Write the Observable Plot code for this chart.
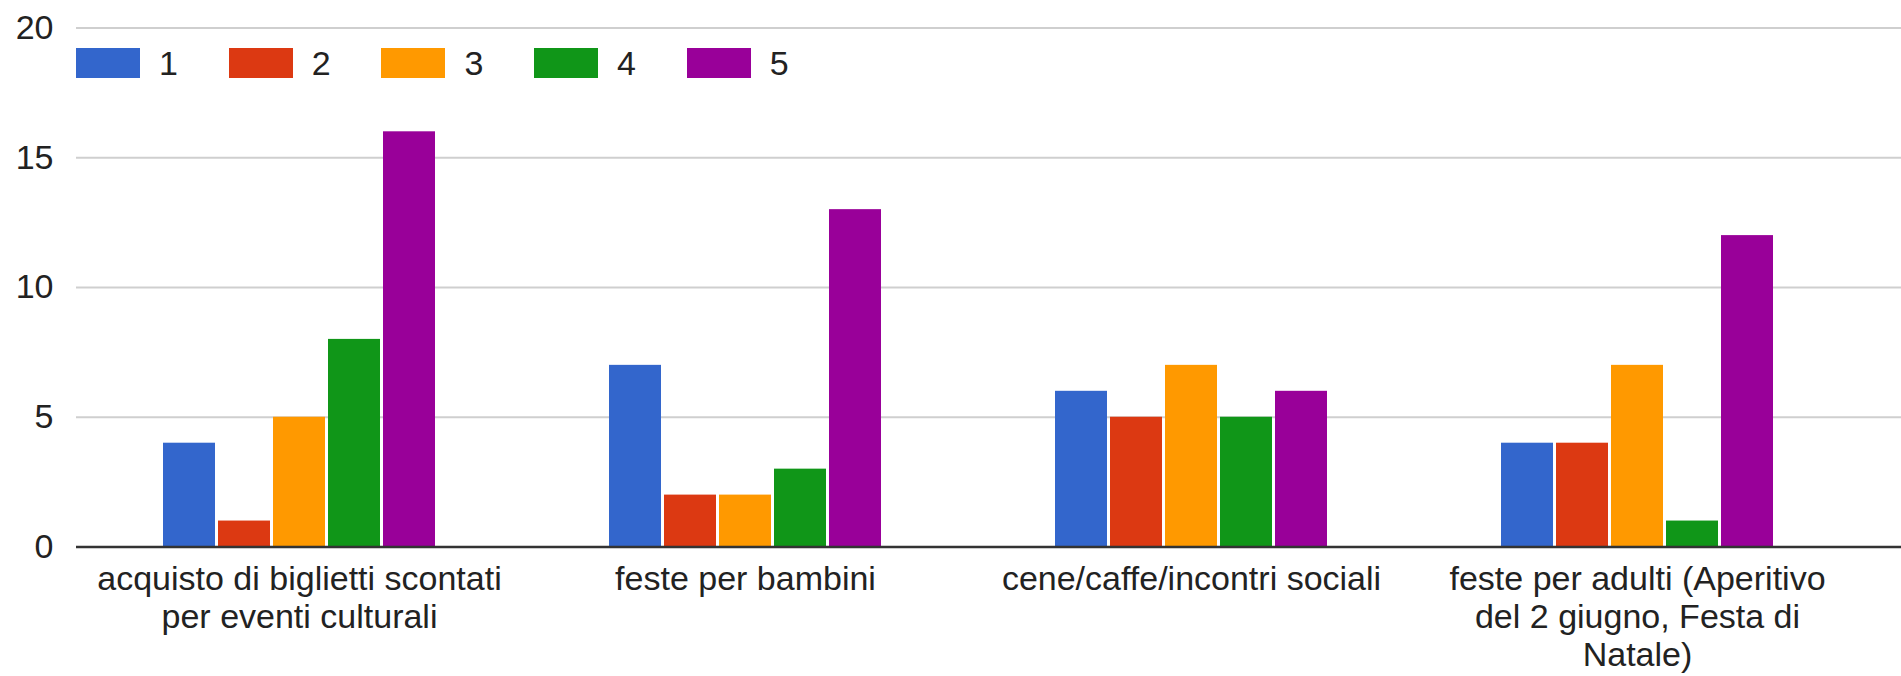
<!DOCTYPE html>
<html>
<head>
<meta charset="utf-8">
<script src="https://cdn.jsdelivr.net/npm/d3@7"></script>
<script src="https://cdn.jsdelivr.net/npm/@observablehq/plot@0.6"></script>
<style>
  html, body { margin: 0; padding: 0; background: #fff; }
  #wrap { position: relative; width: 1901px; height: 676px; font-family: "Liberation Sans", Arial, sans-serif; }
  #wrap svg { display: block; }
  #legend { position: absolute; left: 76px; top: 48px; display: flex; align-items: center; font-size: 34px; color: #222; line-height: 30px; }
  #legend .item { display: inline-flex; align-items: center; width: 152.7px; }
  #legend .sw { width: 64px; height: 30px; margin-right: 19px; }
</style>
</head>
<body>
<div id="wrap"><div id="legend"></div></div>
<script>
// ---- data ----
const categories = [
  "acquisto di biglietti scontati per eventi culturali",
  "feste per bambini",
  "cene/caffe/incontri sociali",
  "feste per adulti (Aperitivo del 2 giugno, Festa di Natale)"
];
const categoryLabels = [
  "acquisto di biglietti scontati\nper eventi culturali",
  "feste per bambini",
  "cene/caffe/incontri sociali",
  "feste per adulti (Aperitivo\ndel 2 giugno, Festa di\nNatale)"
];
const seriesNames = ["1", "2", "3", "4", "5"];
const series1 = [4, 7, 6, 4];
const series2 = [1, 2, 5, 4];
const series3 = [5, 2, 7, 7];
const series4 = [8, 3, 5, 1];
const series5 = [16, 13, 6, 12];
const yTicks = [0, 5, 10, 15, 20];
const gridTicks = [5, 10, 15, 20];
const colors = ["#3366cc", "#dc3912", "#ff9900", "#109618", "#990099"];

const seriesValues = [series1, series2, series3, series4, series5];
const rows = categories.flatMap((c, i) =>
  seriesNames.map((s, j) => ({category: c, series: s, value: seriesValues[j][i]}))
);
const labelOf = new Map(categories.map((c, i) => [c, categoryLabels[i]]));
const lastCategory = categories[categories.length - 1];
const innerCats = categories.slice(0, -1);
const gridInner = innerCats.flatMap(c => gridTicks.map(t => ({category: c, t})));
const gridLast = gridTicks.map(t => ({category: lastCategory, t}));
const baseInner = innerCats.map(c => ({category: c, t: 0}));
const baseLast = [{category: lastCategory, t: 0}];

const W = 1901, fxEnd = 1860;
const gridStyle = {stroke: "#cfcfcf", strokeWidth: 2};
const baseStyle = {stroke: "#333", strokeWidth: 2.5};

const chart = Plot.plot({
  width: W,
  height: 676,
  marginTop: 27.5,
  marginBottom: 129.5,
  marginLeft: 76,
  marginRight: 0,
  style: {fontSize: "34px", fontFamily: "'Liberation Sans', Arial, sans-serif", color: "#222", background: "transparent", overflow: "visible"},
  fx: {domain: categories, range: [76, fxEnd], paddingInner: 0, paddingOuter: 0, label: null},
  x: {domain: seriesNames, paddingInner: 0.061, paddingOuter: 1.556, axis: null},
  y: {domain: [0, 20], label: null},
  color: {domain: seriesNames, range: colors},
  marks: [
    Plot.ruleY(gridInner, {y: "t", fx: "category", ...gridStyle}),
    Plot.ruleY(gridLast, {y: "t", fx: "category", insetRight: fxEnd - W, ...gridStyle}),
    Plot.barY(rows, {fx: "category", x: "series", y: "value", fill: "series"}),
    Plot.ruleY(baseInner, {y: "t", fx: "category", ...baseStyle}),
    Plot.ruleY(baseLast, {y: "t", fx: "category", insetRight: fxEnd - W, ...baseStyle}),
    Plot.axisY({ticks: yTicks, tickSize: 0, tickPadding: 23, label: null, fill: "#222"}),
    Plot.axisFx({anchor: "bottom", tickSize: 0, tickPadding: 16, label: null, lineHeight: 38 / 34,
      tickFormat: d => labelOf.get(d), fill: "#222"})
  ]
});
document.getElementById("wrap").prepend(chart);

const colorScale = chart.scale("color");
const legend = document.getElementById("legend");
colorScale.domain.forEach((s, i) => {
  const item = document.createElement("span");
  item.className = "item";
  const sw = document.createElement("span");
  sw.className = "sw";
  sw.style.background = colorScale.range[i];
  const lab = document.createElement("span");
  lab.textContent = s;
  item.append(sw, lab);
  legend.append(item);
});
</script>
</body>
</html>
